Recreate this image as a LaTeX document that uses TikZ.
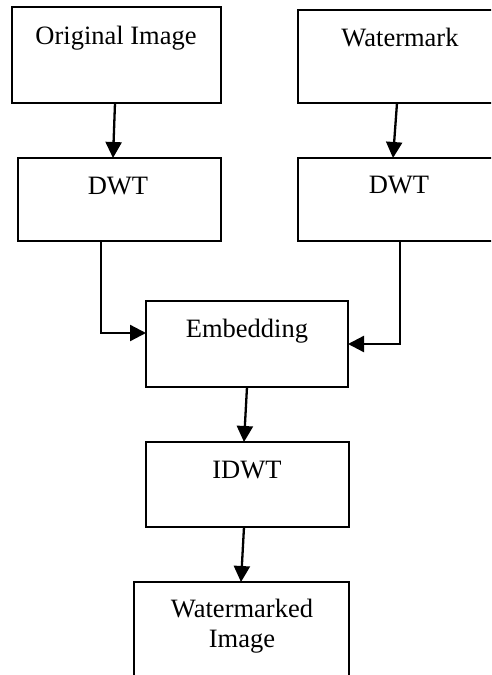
\documentclass[tikz,border=0pt]{standalone}
\usepackage{fontspec}
\setmainfont{Liberation Serif}
\usetikzlibrary{arrows.meta}
\begin{document}
\begin{tikzpicture}[x=1pt,y=-1pt,
  box/.style={draw=black,line width=2pt,rectangle,inner sep=0pt,outer sep=0pt},
  txt/.style={anchor=base,inner sep=0pt,font=\fontsize{26.5}{30}\selectfont},
  flow/.style={line width=2.3pt,-{Triangle[length=16pt,width=16pt]}}]
  \useasboundingbox (0,0) rectangle (491,675);
  \clip (0,0) rectangle (491,675);
  % processing blocks
  \node[box,minimum width=209pt,minimum height=96pt] (orig) at (116.5,55) {};
  \node[box,minimum width=204pt,minimum height=93pt] (wm) at (400,56.5) {};
  \node[box,minimum width=203pt,minimum height=83pt] (dwtl) at (119.5,199.5) {};
  \node[box,minimum width=204pt,minimum height=83pt] (dwtr) at (400,199.5) {};
  \node[box,minimum width=202pt,minimum height=86pt] (emb) at (247,344) {};
  \node[box,minimum width=203pt,minimum height=85pt] (idwt) at (247.5,484.5) {};
  \node[box,minimum width=215pt,minimum height=118pt] (out) at (241.5,641) {};
  % block labels
  \node[txt] (origtxt) at (116,44) {Original Image};
  \node[txt] (wmtxt) at (400,46) {Watermark};
  \node[txt] (dwtltxt) at (118,194) {DWT};
  \node[txt] (dwtrtxt) at (399,193) {DWT};
  \node[txt] (embtxt) at (247,337) {Embedding};
  \node[txt] (idwttxt) at (247,478) {IDWT};
  \node[txt] (outtxta) at (242,617) {Watermarked};
  \node[txt] (outtxtb) at (242,647) {Image};
  % connectors
  \draw[flow] ([xshift=-1.5pt]orig.south) -- ([xshift=-6.5pt]dwtl.north);
  \draw[flow] ([xshift=-3pt]wm.south) -- ([xshift=-7pt]dwtr.north);
  \draw[flow] ([xshift=-18.5pt]dwtl.south) |- ([yshift=11pt]emb.west);
  \draw[flow] (dwtr.south) |- (emb.east);
  \draw[flow] (emb.south) -- ([xshift=-3.5pt]idwt.north);
  \draw[flow] ([xshift=-3.5pt]idwt.south) -- ([xshift=-0.5pt]out.north);
\end{tikzpicture}
\end{document}
